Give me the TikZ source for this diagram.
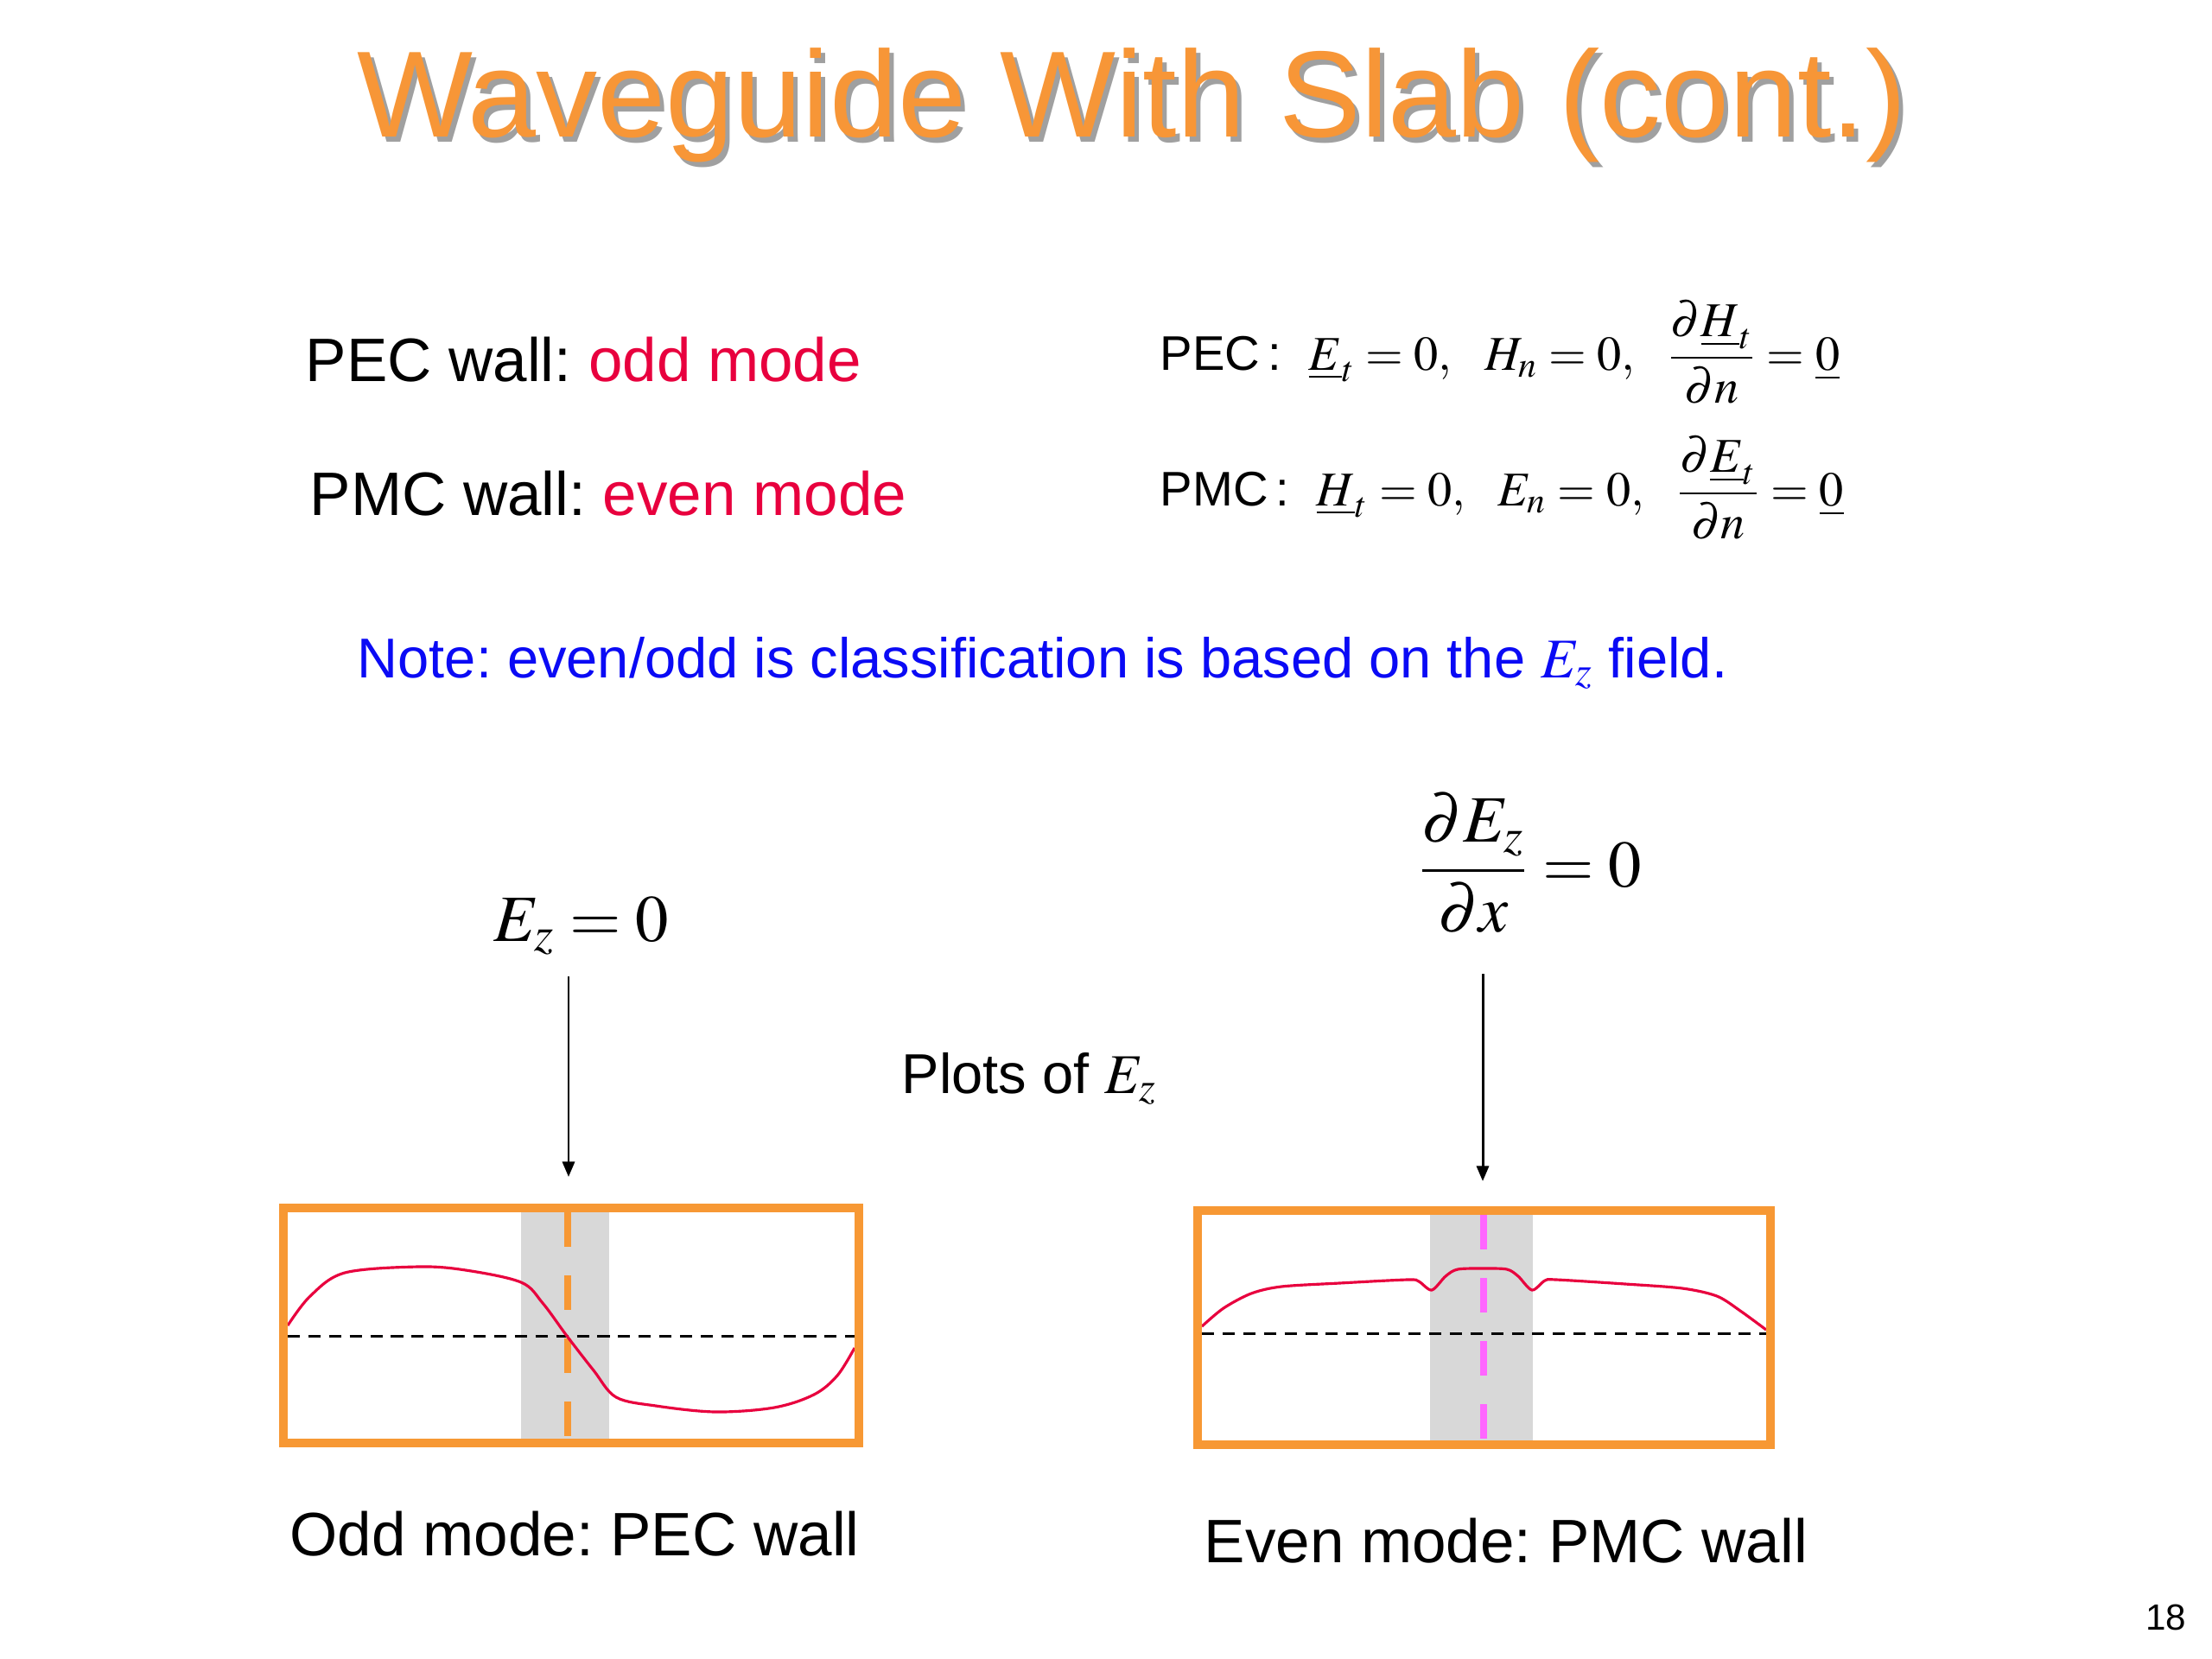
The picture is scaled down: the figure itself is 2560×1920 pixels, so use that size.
\documentclass[tikz,border=0pt]{standalone}
\usepackage{amsmath}
\usepackage{mathptmx}
\usepackage[no-math]{fontspec}
\setmainfont{Liberation Sans}
\usetikzlibrary{arrows.meta}
\frenchspacing
\definecolor{ttlorange}{RGB}{247,150,55}
\definecolor{boxorange}{RGB}{247,152,52}
\definecolor{modered}{RGB}{232,0,62}
\definecolor{noteblue}{RGB}{10,10,245}
\definecolor{slabgray}{RGB}{216,216,216}
\definecolor{pmcmag}{RGB}{255,102,255}
\definecolor{shadowgray}{RGB}{160,160,160}
\begin{document}
\begin{tikzpicture}[x=0.1mm,y=-0.1mm,
  txt/.style={inner sep=0pt, font=\fontsize{20.2}{24}\selectfont, anchor=base west},
  smalltxt/.style={inner sep=0pt, font=\fontsize{18.5}{22}\selectfont, anchor=base west},
  eqtxt/.style={inner sep=0pt, font=\fontsize{16}{19}\selectfont, anchor=base west},
  bigmath/.style={inner sep=0pt, font=\fontsize{21.8}{26}\selectfont},
  arr/.style={line width=0.85pt, -{Triangle[length=5pt,width=4pt]}},
  zeroline/.style={line width=0.85pt, dash pattern=on 4pt off 2.8pt},
  wallpec/.style={draw=boxorange, line width=2.3pt, dash pattern=on 11.4pt off 9.4pt},
  wallpmc/.style={draw=pmcmag, line width=2.3pt, dash pattern=on 11.4pt off 9.4pt},
  curve/.style={draw=modered, line width=0.9pt},
  boxline/.style={draw=boxorange, line width=2.6pt}]
\useasboundingbox[fill=white] (0,0) rectangle (2560,1920);

% title with shadow
\node[anchor=base, inner sep=0pt, text=shadowgray, font=\fontsize{40.4}{48}\selectfont] (titleshadow) at (1315,164) {Waveguide With Slab (cont.)};
\node[anchor=base, inner sep=0pt, text=ttlorange, font=\fontsize{40.4}{48}\selectfont] (title) at (1310,158) {Waveguide With Slab (cont.)};

% left text lines
\node[txt] (pecwall) at (353,441) {PEC wall: \textcolor{modered}{odd mode}};
\node[txt] (pmcwall) at (358,596) {PMC wall: \textcolor{modered}{even mode}};

% equations
\node[eqtxt] (peceq) at (1342,428) {PEC\,:\ \ $\underline{E}_t=0,\ \ H_n=0,\ \ \dfrac{\partial\underline{H}_t}{\partial n}=\underline{0}$};
\node[eqtxt] (pmceq) at (1342,585) {PMC\,:\ \ $\underline{H}_t=0,\ \ E_n=0,\ \ \dfrac{\partial\underline{E}_t}{\partial n}=\underline{0}$};

% note
\node[smalltxt, text=noteblue] (note) at (413,784) {Note: even/odd is classification is based on the $E_z$ field.};

% labels above plots
\node[bigmath, anchor=base west] (ezlbl) at (571,1089) {$E_z=0$};
\node[bigmath, anchor=west] (dezlbl) at (1641,999) {$\dfrac{\partial E_z}{\partial x}=0$};
\node[smalltxt] (plots) at (1043,1265) {Plots of $E_z$};

\coordinate (a1s) at (658,1130);
\coordinate (a1e) at (658,1362);
\coordinate (a2s) at (1716,1127);
\coordinate (a2e) at (1716,1367);
\draw[arr] (a1s) -- (a1e);
\draw[arr] (a2s) -- (a2e);

% left plot (odd mode)
\fill[slabgray] (603,1403) rectangle (705,1665);
\draw[zeroline] (333,1546) -- (989,1546);
\draw[wallpec] (657,1403) -- (657,1665);
\draw[curve] plot[smooth, tension=0.55] coordinates {(333,1534) (359,1500) (399,1473) (484,1466) (539,1470) (603,1484) (628,1508) (656,1546) (687,1586) (713,1617) (759,1627) (828,1634) (896,1629) (942,1614) (969,1592) (989,1560)};
\draw[boxline] (328,1398) rectangle (994,1670);

% right plot (even mode)
\fill[slabgray] (1655,1406) rectangle (1774,1667);
\draw[zeroline] (1391,1543) -- (2044,1543);
\draw[wallpmc] (1717,1406) -- (1717,1667);
\draw[curve] plot[smooth, tension=0.5] coordinates {(1391,1535) (1416,1514) (1448,1497) (1483,1489) (1550,1485) (1629,1481) (1642,1483) (1657,1493) (1673,1477) (1687,1469) (1717,1468) (1744,1469) (1757,1477) (1773,1493) (1788,1482) (1801,1481) (1881,1486) (1947,1491) (1987,1500) (2014,1517) (2044,1539)};
\draw[boxline] (1386,1401) rectangle (2049,1672);

% captions
\node[txt] (oddlbl) at (335,1800) {Odd mode: PEC wall};
\node[txt] (evenlbl) at (1393,1808) {Even mode: PMC wall};

\node[anchor=base east, inner sep=0pt, font=\fontsize{12}{14}\selectfont] (pagenum) at (2531,1886) {18};
\end{tikzpicture}
\end{document}
